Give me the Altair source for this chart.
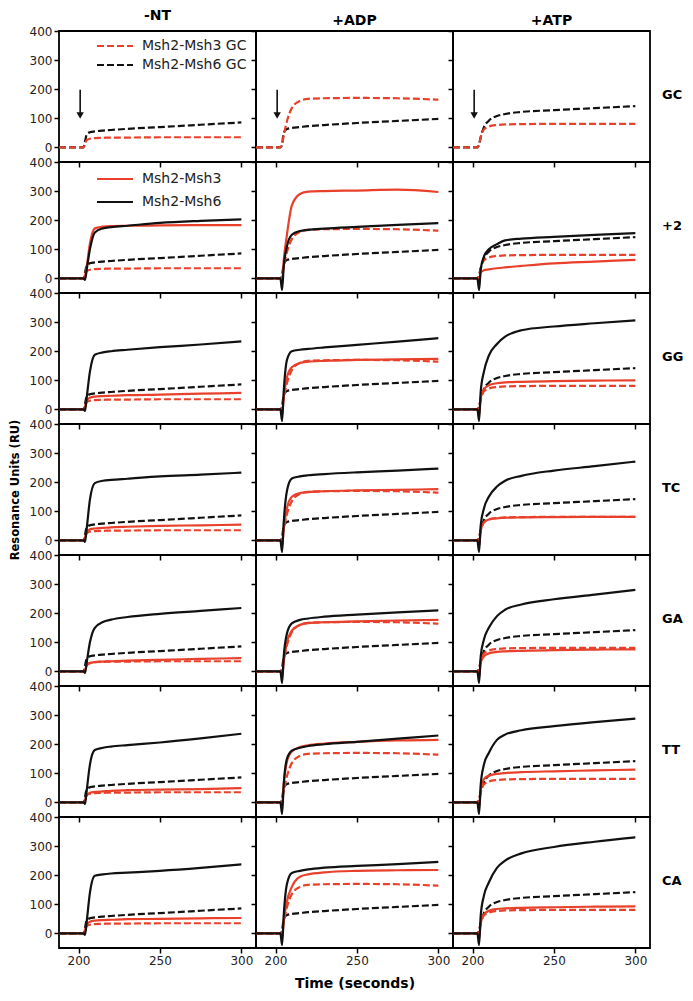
import altair as alt
import pandas as pd

FONT = "DejaVu Sans"
RED = "#e8402a"
BLACK = "#111111"

TIME = [188, 203, 204, 205, 207, 210, 215, 220, 230, 250, 275, 300]
COLUMNS = ["-NT", "+ADP", "+ATP"]
ROWS = ["GC", "+2", "GG", "TC", "GA", "TT", "CA"]
Y_TICKS = [0, 100, 200, 300, 400]
X_TICKS = [200, 250, 300]

# Reference (GC homoduplex) responses, dashed, same in every row of a column
GC_MSH3_NT = [0, 0, 10, 25, 30, 32, 33, 34, 34, 35, 35, 35]
GC_MSH6_NT = [0, 0, 20, 45, 52, 55, 58, 60, 64, 70, 78, 86]
GC_MSH3_ADP = [0, 0, 10, 40, 90, 135, 160, 167, 169, 170, 169, 164]
GC_MSH6_ADP = [0, 0, 10, 50, 63, 67, 70, 73, 77, 84, 91, 98]
GC_MSH3_ATP = [0, 0, 10, 35, 62, 72, 77, 79, 80, 81, 81, 81]
GC_MSH6_ATP = [0, 0, 10, 35, 70, 92, 108, 115, 122, 128, 135, 142]

# Mismatch substrates, solid
P2_MSH3_NT = [0, 0, 10, 40, 120, 172, 178, 180, 181, 182, 183, 183]
P2_MSH6_NT = [0, 0, -5, 30, 100, 158, 172, 176, 181, 191, 198, 203]
P2_MSH3_ADP = [0, 0, -20, 60, 150, 250, 290, 298, 300, 302, 305, 297]
P2_MSH6_ADP = [0, 0, -40, 40, 110, 150, 163, 167, 171, 177, 184, 190]
P2_MSH3_ATP = [0, 0, -20, 20, 28, 31, 35, 38, 43, 52, 58, 64]
P2_MSH6_ATP = [0, 0, -40, 30, 75, 100, 118, 131, 137, 143, 150, 156]

GG_MSH3_NT = [0, 0, 10, 30, 40, 44, 46, 47, 49, 51, 54, 57]
GG_MSH6_NT = [0, 0, -5, 40, 130, 188, 196, 200, 205, 214, 223, 234]
GG_MSH3_ADP = [0, 0, -20, 40, 110, 145, 160, 164, 167, 170, 172, 174]
GG_MSH6_ADP = [0, 0, -40, 60, 170, 200, 205, 208, 213, 222, 233, 245]
GG_MSH3_ATP = [0, 0, -20, 40, 70, 83, 90, 93, 95, 97, 99, 100]
GG_MSH6_ATP = [0, 0, -40, 60, 130, 185, 225, 250, 272, 285, 296, 306]

TC_MSH3_NT = [0, 0, 10, 30, 38, 41, 43, 45, 47, 50, 52, 54]
TC_MSH6_NT = [0, 0, -5, 40, 140, 197, 205, 208, 212, 220, 226, 233]
TC_MSH3_ADP = [0, 0, -20, 40, 110, 150, 163, 166, 169, 172, 174, 176]
TC_MSH6_ADP = [0, 0, -40, 60, 170, 213, 220, 224, 228, 234, 240, 247]
TC_MSH3_ATP = [0, 0, -20, 35, 62, 72, 76, 78, 79, 80, 81, 81]
TC_MSH6_ATP = [0, 0, -40, 50, 110, 150, 185, 205, 222, 240, 255, 271]

GA_MSH3_NT = [0, 0, 5, 20, 28, 32, 34, 35, 37, 40, 43, 46]
GA_MSH6_NT = [0, 0, -5, 30, 100, 150, 170, 178, 187, 198, 208, 218]
GA_MSH3_ADP = [0, 0, -20, 30, 100, 140, 160, 166, 169, 172, 175, 177]
GA_MSH6_ADP = [0, 0, -40, 50, 130, 165, 177, 182, 188, 195, 203, 210]
GA_MSH3_ATP = [0, 0, -20, 30, 52, 62, 67, 69, 71, 73, 75, 76]
GA_MSH6_ATP = [0, 0, -40, 50, 110, 150, 190, 212, 230, 248, 264, 280]

TT_MSH3_NT = [0, 0, 8, 25, 33, 36, 38, 40, 42, 44, 46, 49]
TT_MSH6_NT = [0, 0, -5, 40, 130, 180, 188, 192, 197, 206, 220, 236]
TT_MSH3_ADP = [0, 0, -20, 60, 140, 175, 190, 196, 202, 208, 213, 215]
TT_MSH6_ADP = [0, 0, -40, 60, 150, 178, 188, 194, 200, 208, 219, 230]
TT_MSH3_ATP = [0, 0, -20, 40, 80, 92, 98, 101, 104, 107, 110, 113]
TT_MSH6_ATP = [0, 0, -40, 60, 130, 170, 215, 233, 248, 262, 276, 288]

CA_MSH3_NT = [0, 0, 10, 30, 40, 44, 46, 47, 49, 50, 52, 53]
CA_MSH6_NT = [0, 0, -5, 40, 140, 198, 203, 206, 209, 215, 225, 237]
CA_MSH3_ADP = [0, 0, -20, 40, 110, 160, 195, 203, 210, 215, 217, 218]
CA_MSH6_ADP = [0, 0, -40, 60, 170, 208, 215, 220, 226, 232, 238, 246]
CA_MSH3_ATP = [0, 0, -20, 35, 65, 78, 84, 86, 88, 90, 92, 93]
CA_MSH6_ATP = [0, 0, -40, 60, 130, 175, 225, 250, 275, 297, 315, 330]

REF_MSH3 = [GC_MSH3_NT, GC_MSH3_ADP, GC_MSH3_ATP]
REF_MSH6 = [GC_MSH6_NT, GC_MSH6_ADP, GC_MSH6_ATP]
MM_MSH3 = {
    "+2": [P2_MSH3_NT, P2_MSH3_ADP, P2_MSH3_ATP],
    "GG": [GG_MSH3_NT, GG_MSH3_ADP, GG_MSH3_ATP],
    "TC": [TC_MSH3_NT, TC_MSH3_ADP, TC_MSH3_ATP],
    "GA": [GA_MSH3_NT, GA_MSH3_ADP, GA_MSH3_ATP],
    "TT": [TT_MSH3_NT, TT_MSH3_ADP, TT_MSH3_ATP],
    "CA": [CA_MSH3_NT, CA_MSH3_ADP, CA_MSH3_ATP],
}
MM_MSH6 = {
    "+2": [P2_MSH6_NT, P2_MSH6_ADP, P2_MSH6_ATP],
    "GG": [GG_MSH6_NT, GG_MSH6_ADP, GG_MSH6_ATP],
    "TC": [TC_MSH6_NT, TC_MSH6_ADP, TC_MSH6_ATP],
    "GA": [GA_MSH6_NT, GA_MSH6_ADP, GA_MSH6_ATP],
    "TT": [TT_MSH6_NT, TT_MSH6_ADP, TT_MSH6_ATP],
    "CA": [CA_MSH6_NT, CA_MSH6_ADP, CA_MSH6_ATP],
}

# Injection arrow (GC row)
ARROW_TIME = [201]
ARROW_TOP = [198]
ARROW_SHAFT_END = [118]
ARROW_HEAD = [110]

LEGEND_GC = ["Msh2-Msh3 GC", "Msh2-Msh6 GC"]
LEGEND_MM = ["Msh2-Msh3", "Msh2-Msh6"]

W, H = 197, 131
XS = alt.Scale(domain=[188, 309], nice=False, zero=False)
YS = alt.Scale(domain=[-50, 400], nice=False, zero=False)


def make_axes(ri, ci):
    bottom = ri == len(ROWS) - 1
    xa_kw = dict(values=X_TICKS, labels=bottom, grid=False, domain=False, ticks=True,
                 tickSize=5, tickColor="black", tickWidth=1.5, labelFont=FONT,
                 labelFontSize=12, labelColor="#222", labelPadding=2,
                 titleFont=FONT, titleFontSize=14, titleFontWeight="bold",
                 titleColor="black", titlePadding=10)
    xa_kw["title"] = "Time (seconds)" if (bottom and ci == 1) else None
    ya_kw = dict(values=Y_TICKS, labels=(ci == 0), grid=False, domain=False, ticks=True,
                 tickSize=5, tickColor="black", tickWidth=1.5, labelFont=FONT,
                 labelFontSize=12, labelColor="#222", labelPadding=2,
                 titleFont=FONT, titleFontSize=11.5, titleFontWeight="bold",
                 titleColor="black", titlePadding=9)
    ya_kw["title"] = "Resonance Units (RU)" if (ci == 0 and ri == 3) else None
    return alt.Axis(**xa_kw), alt.Axis(**ya_kw)


def line_layer(vals, color, dashed, xa, ya):
    df = pd.DataFrame({"t": TIME, "v": vals})
    kw = dict(color=color, strokeWidth=2.2, interpolate="monotone")
    if dashed:
        kw["strokeDash"] = [7, 3]
    return alt.Chart(df).mark_line(**kw).encode(
        x=alt.X("t:Q", scale=XS, axis=xa),
        y=alt.Y("v:Q", scale=YS, axis=ya),
    )


def legend_layers(labels, dashed, ys):
    out = []
    for lab, col, yy in zip(labels, [RED, BLACK], ys):
        rkw = dict(color=col, strokeWidth=2)
        if dashed:
            rkw["strokeDash"] = [7, 3]
        d = pd.DataFrame({"label": [lab]})
        out.append(alt.Chart(d).mark_rule(**rkw).encode(
            x=alt.value(38), x2=alt.value(74), y=alt.value(yy)))
        out.append(alt.Chart(d).mark_text(align="left", baseline="middle", font=FONT,
                                          fontSize=14, color="#222").encode(
            x=alt.value(83), y=alt.value(yy), text="label:N"))
    return out


panels = []
for ri, rname in enumerate(ROWS):
    for ci, cname in enumerate(COLUMNS):
        xa, ya = make_axes(ri, ci)
        layers = [
            line_layer(REF_MSH6[ci], BLACK, True, xa, ya),
            line_layer(REF_MSH3[ci], RED, True, xa, ya),
        ]
        if rname != "GC":
            layers.append(line_layer(MM_MSH3[rname][ci], RED, False, xa, ya))
            layers.append(line_layer(MM_MSH6[rname][ci], BLACK, False, xa, ya))
        else:
            adf = pd.DataFrame({"t": ARROW_TIME, "v": ARROW_TOP, "v2": ARROW_SHAFT_END})
            layers.append(alt.Chart(adf).mark_rule(color=BLACK, strokeWidth=1.6).encode(
                x=alt.X("t:Q", scale=XS, axis=xa),
                y=alt.Y("v:Q", scale=YS, axis=ya),
                y2="v2:Q"))
            hdf = pd.DataFrame({"t": ARROW_TIME, "v": ARROW_HEAD})
            layers.append(alt.Chart(hdf).mark_point(shape="triangle-down", filled=True,
                                                    color=BLACK, size=55, opacity=1).encode(
                x=alt.X("t:Q", scale=XS, axis=xa),
                y=alt.Y("v:Q", scale=YS, axis=ya)))
        if ci == 0 and ri == 0:
            layers += legend_layers(LEGEND_GC, True, [15, 34])
        if ci == 0 and ri == 1:
            layers += legend_layers(LEGEND_MM, False, [17, 40])
        if ci == 2:
            ldf = pd.DataFrame({"label": [rname]})
            layers.append(alt.Chart(ldf).mark_text(align="left", baseline="middle", font=FONT,
                                                   fontSize=13, fontWeight="bold",
                                                   color="black").encode(
                x=alt.value(W + 12), y=alt.value(64), text="label:N"))
        props = dict(width=W, height=H)
        if ri == 0:
            props["title"] = alt.TitleParams(cname, font=FONT, fontSize=14, fontWeight="bold",
                                             anchor="middle", offset=2, color="black")
        panels.append(alt.layer(*layers).properties(**props))

chart = alt.concat(*panels, columns=3, spacing=0, bounds="flush").properties(
    padding={"left": 0, "top": 0, "right": 0, "bottom": 0}
).configure_view(stroke="black", strokeWidth=1.8)

chart.save("out.html", embed_options={"renderer": "svg", "actions": False})
